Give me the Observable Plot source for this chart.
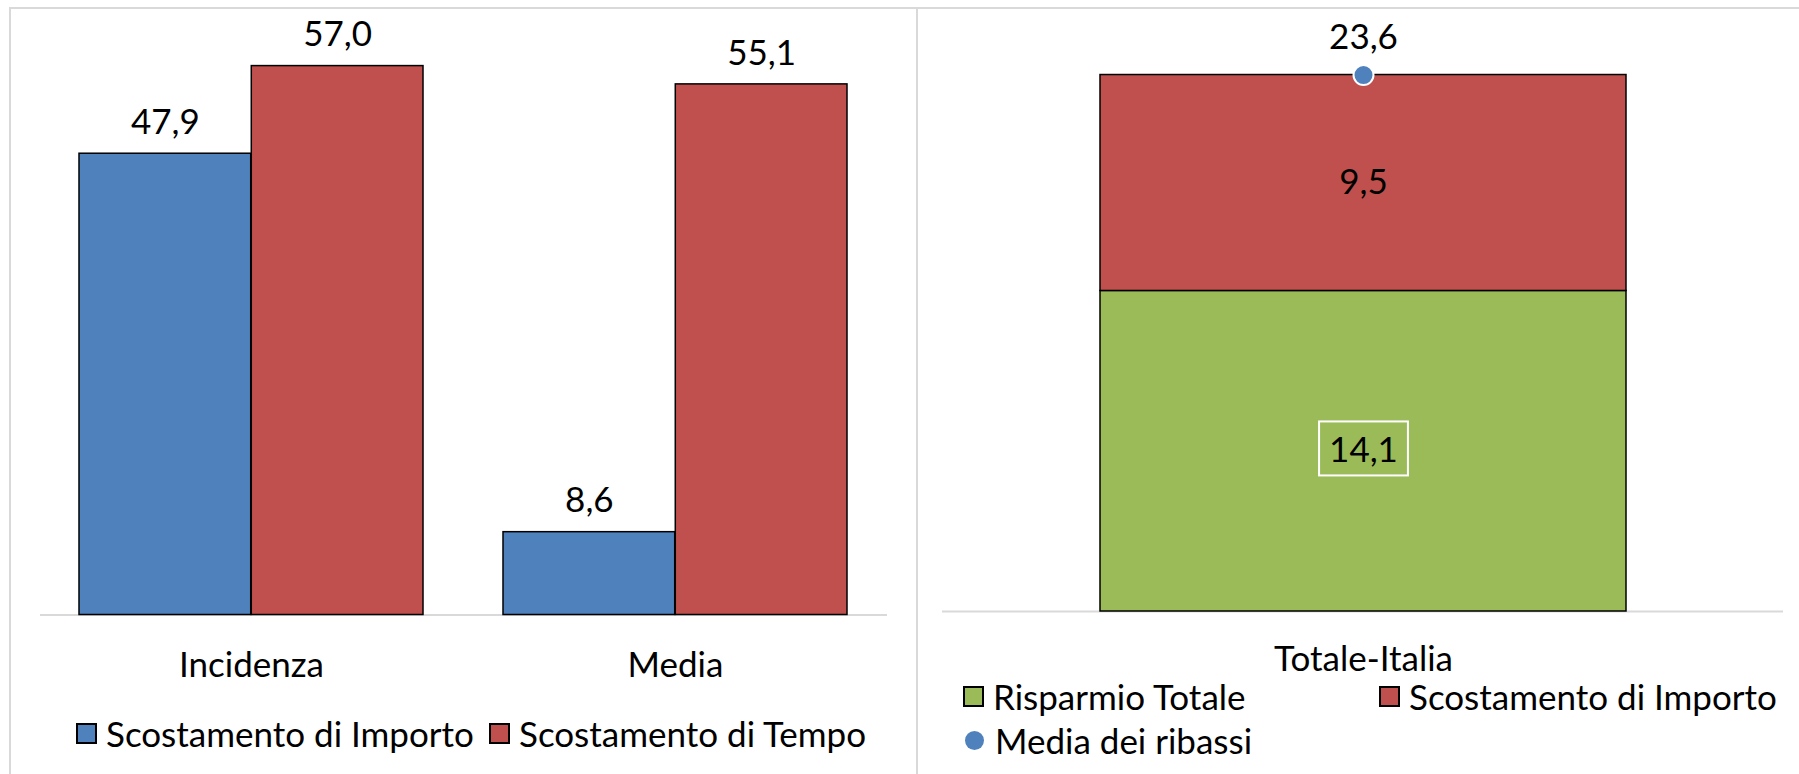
<!DOCTYPE html>
<html>
<head>
<meta charset="utf-8">
<script src="https://cdn.jsdelivr.net/npm/d3@7"></script>
<script src="https://cdn.jsdelivr.net/npm/@observablehq/plot@0.6"></script>
<style>
  html, body { margin: 0; padding: 0; background: #fff; }
  body { width: 1799px; height: 774px; position: relative; overflow: hidden; font-family: Lato, "Open Sans", sans-serif; color: #000; }
  .panel { position: absolute; top: 0; }
  .frame-top { position: absolute; left: 9px; top: 7px; right: 0; height: 2px; background: #d9d9d9; }
  .frame-left { position: absolute; left: 9px; top: 7px; bottom: 0; width: 2px; background: #d9d9d9; }
  .frame-mid { position: absolute; left: 916px; top: 7px; bottom: 0; width: 2px; background: #d9d9d9; }
  .legend-item { position: absolute; display: flex; align-items: center; font-size: 35px; white-space: nowrap; transform: translateY(-50%); }
  .sw { width: 21px; height: 21px; box-sizing: border-box; border: 2px solid #000; margin-right: 9px; flex: none; }
  .sw-dot { width: 19px; height: 19px; border-radius: 50%; margin-right: 11px; flex: none; }
</style>
</head>
<body>
<div class="frame-top"></div>
<div class="frame-left"></div>
<div class="frame-mid"></div>
<div id="left" class="panel" style="left:0px;"></div>
<div id="right" class="panel" style="left:917px;"></div>
<script>
// ---------- data ----------
const leftCategories = ["Incidenza", "Media"];
const leftSeries = ["Scostamento di Importo", "Scostamento di Tempo"];
const importoValues = [47.9, 8.6];
const tempoValues = [57.0, 55.1];

const rightCategories = ["Totale-Italia"];
const rightSeries = ["Risparmio Totale", "Scostamento di Importo"];
const rightValues = [14.1, 9.5];
const pointSeries = "Media dei ribassi";
const pointValues = [23.6];

// ---------- styles ----------
const BLUE = "#4F81BD", RED = "#C0504D", GREEN = "#9BBB59";
const FONT = "Lato, 'Open Sans', sans-serif";
const FS = "35px";
const fmt = v => v.toFixed(1).replace(".", ",");

// ---------- left chart ----------
const leftRows = leftCategories.flatMap((c, i) => [
  {cat: c, series: leftSeries[0], value: importoValues[i]},
  {cat: c, series: leftSeries[1], value: tempoValues[i]}
]);
const L = {width: 917, height: 700, ml: 40, mr: 30, mt: 36.7, mb: 85.5, pi: 0.188, po: 0.092};
const innerL = L.width - L.ml - L.mr;
const stepL = innerL / (leftCategories.length - L.pi + 2 * L.po);
const bwL = stepL * (1 - L.pi);
const half = bwL / 2;

const leftPlot = Plot.plot({
  width: L.width, height: L.height,
  marginLeft: L.ml, marginRight: L.mr, marginTop: L.mt, marginBottom: L.mb,
  style: {fontFamily: FONT, fontSize: FS, color: "#000", background: "transparent", overflow: "visible"},
  x: {domain: leftCategories, paddingInner: L.pi, paddingOuter: L.po, label: null, tickSize: 0, tickPadding: 37},
  y: {domain: [0, 60], axis: null},
  color: {domain: leftSeries, range: [BLUE, RED]},
  marks: [
    Plot.ruleY([0], {stroke: "#d9d9d9", strokeWidth: 2}),
    Plot.barY(leftRows.filter(d => d.series === leftSeries[0]), {x: "cat", y: "value", fill: "series", stroke: "#000", strokeWidth: 1.5, insetRight: half}),
    Plot.barY(leftRows.filter(d => d.series === leftSeries[1]), {x: "cat", y: "value", fill: "series", stroke: "#000", strokeWidth: 1.5, insetLeft: half}),
    Plot.text(leftRows.filter(d => d.series === leftSeries[0]), {x: "cat", y: "value", text: d => fmt(d.value), dx: -half / 2, dy: -31, fill: "#000"}),
    Plot.text(leftRows.filter(d => d.series === leftSeries[1]), {x: "cat", y: "value", text: d => fmt(d.value), dx: half / 2, dy: -31, fill: "#000"})
  ]
});
const leftDiv = document.getElementById("left");
leftDiv.appendChild(leftPlot);

// legend helpers
function legendSquare(parent, left, top, color, label) {
  const it = document.createElement("div");
  it.className = "legend-item";
  it.style.left = left + "px"; it.style.top = top + "px";
  const sw = document.createElement("div"); sw.className = "sw"; sw.style.background = color;
  const tx = document.createElement("span"); tx.textContent = label;
  it.appendChild(sw); it.appendChild(tx);
  parent.appendChild(it);
}
function legendDot(parent, left, top, color, label) {
  const it = document.createElement("div");
  it.className = "legend-item";
  it.style.left = left + "px"; it.style.top = top + "px";
  const sw = document.createElement("div"); sw.className = "sw-dot"; sw.style.background = color;
  const tx = document.createElement("span"); tx.textContent = label;
  it.appendChild(sw); it.appendChild(tx);
  parent.appendChild(it);
}
legendSquare(leftDiv, 76, 733, BLUE, leftSeries[0]);
legendSquare(leftDiv, 489, 733, RED, leftSeries[1]);

// ---------- right chart ----------
const rightRows = rightSeries.map((s, i) => ({cat: rightCategories[0], series: s, value: rightValues[i]}));
const pointRows = pointValues.map((v, i) => ({cat: rightCategories[i], series: pointSeries, value: v}));
const R = {width: 882, height: 700, ml: 25, mr: 16, mt: 42.7, mb: 89};

const rightPlot = Plot.plot({
  width: R.width, height: R.height,
  marginLeft: R.ml, marginRight: R.mr, marginTop: R.mt, marginBottom: R.mb,
  style: {fontFamily: FONT, fontSize: FS, color: "#000", background: "transparent", overflow: "visible"},
  x: {domain: rightCategories, padding: 0.23, label: null, tickSize: 0, tickPadding: 35},
  y: {domain: [0, 25], axis: null},
  color: {domain: rightSeries, range: [GREEN, RED]},
  marks: [
    Plot.ruleY([0], {stroke: "#d9d9d9", strokeWidth: 2}),
    Plot.barY(rightRows, Plot.stackY({x: "cat", y: "value", fill: "series", stroke: "#000", strokeWidth: 1.5})),
    Plot.text(rightRows, Plot.stackY({x: "cat", y: "value", text: d => fmt(d.value), fill: "#000"})),
    Plot.dot(pointRows, {x: "cat", y: "value", r: 10, fill: BLUE, stroke: "#fff", strokeWidth: 2}),
    Plot.text(pointRows, {x: "cat", y: "value", text: d => fmt(d.value), dy: -37, fill: "#000"})
  ]
});
const rightDiv = document.getElementById("right");
rightDiv.appendChild(rightPlot);

// white box around the "Risparmio Totale" data label
const boxLabel = fmt(rightValues[0]);
rightPlot.querySelectorAll('g[aria-label="text"] text').forEach(t => {
  if (t.textContent === boxLabel) {
    const bb = t.getBBox();
    const rect = document.createElementNS("http://www.w3.org/2000/svg", "rect");
    const cy = bb.y + bb.height / 2;
    rect.setAttribute("x", bb.x - 10);
    rect.setAttribute("width", bb.width + 20);
    rect.setAttribute("y", cy - 27);
    rect.setAttribute("height", 54);
    rect.setAttribute("fill", "none");
    rect.setAttribute("stroke", "#fff");
    rect.setAttribute("stroke-width", 2);
    if (t.getAttribute("transform")) rect.setAttribute("transform", t.getAttribute("transform"));
    t.parentNode.insertBefore(rect, t);
  }
});

// right legend (positions relative to right panel, which starts at x=917)
legendSquare(rightDiv, 963 - 917, 696, GREEN, rightSeries[0]);
legendSquare(rightDiv, 1379 - 917, 696, RED, rightSeries[1]);
legendDot(rightDiv, 965 - 917, 740, BLUE, pointSeries);
</script>
</body>
</html>
